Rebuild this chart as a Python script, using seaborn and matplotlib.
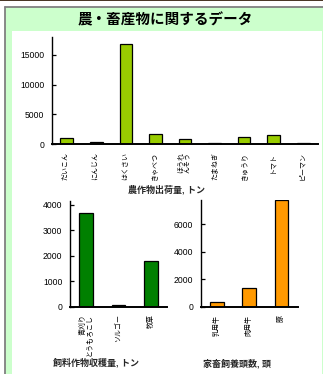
import matplotlib
matplotlib.use("Agg")
import matplotlib.pyplot as plt
from matplotlib.patches import Rectangle
from matplotlib.lines import Line2D
import seaborn as sns

# --- data ---
crops = ['だいこん', 'にんじん', 'はくさい', 'きゃべつ', 'ほうれ\nんそう',
         'たまねぎ', 'きゅうり', 'トマト', 'ピーマン']
crop_tons = [1000, 400, 16900, 1700, 800, 100, 1150, 1500, 100]

feed_crops = ['青刈り\nとうもろこし', 'ソルゴー', '牧草']
feed_tons = [3680, 50, 1800]

livestock = ['乳用牛', '肉用牛', '豚']
head_counts = [340, 1380, 7750]

title = '農・畜産物に関するデータ'
crop_label = '農作物出荷量, トン'
feed_label = '飼料作物収穫量, トン'
livestock_label = '家畜飼養頭数, 頭'

sns.set_theme(style="white")
plt.rcParams['font.family'] = ['Liberation Sans', 'Noto Sans CJK JP']

W, H = 323, 374
fig = plt.figure(figsize=(W / 100, H / 100), dpi=100)
fig.patch.set_facecolor('white')


def px_rect(x0, y0, x1, y1, **kw):
    fig.patches.append(Rectangle((x0 / W, 1 - y1 / H), (x1 - x0) / W, (y1 - y0) / H,
                                 transform=fig.transFigure, figure=fig,
                                 zorder=-5, **kw))


def px_line(xs, ys, **kw):
    fig.lines.append(Line2D([x / W for x in xs], [1 - y / H for y in ys],
                            transform=fig.transFigure, figure=fig,
                            zorder=-4, **kw))


# page frame
px_rect(0, 0, W, 1.3, facecolor='#4a3826', edgecolor='none')
px_rect(5, 7, W, H, facecolor='#ccffcc', edgecolor='none')
px_rect(12, 31, 322, H, facecolor='white', edgecolor='none')
px_line([4.5, 4.5], [6.5, H], color='#808080', lw=1.3)
px_line([4.5, W], [6.5, 6.5], color='#808080', lw=1.3)

fig.text(165 / W, 1 - 20 / H, title, ha='center', va='center',
         fontsize=10.5, fontweight='bold', color='black')


def make_axes(box, cats, vals, color, ymax, yticks):
    x0, y0, x1, y1 = box
    ax = fig.add_axes([x0 / W, 1 - y1 / H, (x1 - x0) / W, (y1 - y0) / H])
    ax.set_facecolor('none')
    sns.barplot(x=cats, y=vals, color=color, saturation=1, edgecolor='black',
                linewidth=0.9, width=0.43, ax=ax)
    ax.set_xlim(-0.5, len(cats) - 0.5)
    ax.set_ylim(0, ymax)
    ax.set_yticks(yticks)
    for s in ['top', 'right']:
        ax.spines[s].set_visible(False)
    for s in ['left', 'bottom']:
        ax.spines[s].set_color('black')
    ax.spines['left'].set_linewidth(1.0)
    ax.spines['bottom'].set_linewidth(1.4)
    ax.tick_params(axis='y', direction='in', length=3, width=0.9, pad=5.5,
                   labelsize=6.2, colors='black', left=True)
    ax.tick_params(axis='x', length=0, pad=5.5, labelsize=5, colors='black')
    plt.setp(ax.get_xticklabels(), rotation=90, va='top', ha='center',
             multialignment='right', linespacing=1.0)
    ax.set_xlabel('')
    ax.set_ylabel('')
    return ax


make_axes((52, 37, 318, 144), crops, crop_tons, '#99cc00', 18000,
          [0, 5000, 10000, 15000])
make_axes((70, 200.7, 167, 306.7), feed_crops, feed_tons, '#008000', 4150,
          [0, 1000, 2000, 3000, 4000])
make_axes((201, 200, 297.6, 307), livestock, head_counts, '#ff9900', 7750,
          [0, 2000, 4000, 6000])

fig.text(167 / W, 1 - 190 / H, crop_label, ha='center', va='center',
         fontsize=6.5, fontweight='bold')
fig.text(96 / W, 1 - 363 / H, feed_label, ha='center', va='center',
         fontsize=6.5, fontweight='bold')
fig.text(237 / W, 1 - 364 / H, livestock_label, ha='center', va='center',
         fontsize=6.5, fontweight='bold')

fig.savefig('out.png', dpi=100)
